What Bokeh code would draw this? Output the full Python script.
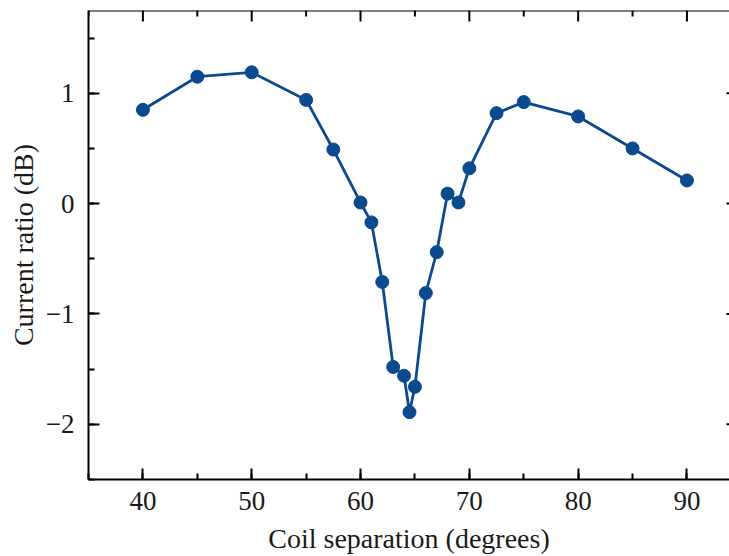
from bokeh.plotting import figure
from bokeh.models import LinearAxis, SingleIntervalTicker, Range1d, Span
from bokeh.embed import file_html
from bokeh.resources import INLINE

# Data
separation_deg = [40, 45, 50, 55, 57.5, 60, 61, 62, 63, 64, 64.5, 65, 66, 67, 68, 69, 70, 72.5, 75, 80, 85, 90]
current_ratio_db = [0.85, 1.15, 1.19, 0.94, 0.49, 0.01, -0.17, -0.71, -1.48, -1.56, -1.89, -1.66, -0.81, -0.44, 0.09, 0.01, 0.32, 0.82, 0.92, 0.79, 0.50, 0.21]

x_major_ticks = [40, 50, 60, 70, 80, 90]
x_minor_ticks = [35, 45, 55, 65, 75, 85]
y_major_ticks = [-2, -1, 0, 1]
y_tick_labels = {-2: "\u22122", -1: "\u22121", 0: "0", 1: "1"}
x_label = "Coil separation (degrees)"
y_label = "Current ratio (dB)"

COLOR = "#0B4A8F"
FONT = "Liberation Serif"
TEXT = "#1a1a1a"

W, H = 729, 556
LEFT, TOP = 88, 10
X0, X1 = 35, 93.91
Y0, Y1 = -2.5, 1.75

p = figure(width=W, height=H,
           x_range=Range1d(X0, X1), y_range=Range1d(Y0, Y1),
           output_backend="svg", toolbar_location=None,
           x_axis_location=None, y_axis_location=None,
           min_border_left=LEFT, min_border_top=TOP, min_border_right=0, min_border_bottom=0)
p.outline_line_color = None
p.xgrid.visible = False
p.ygrid.visible = False
p.background_fill_color = "white"
p.border_fill_color = "white"


def style(ax):
    ax.axis_line_width = 2
    ax.axis_line_color = "black"
    ax.major_tick_line_width = 2
    ax.minor_tick_line_width = 2
    ax.major_tick_in = 11
    ax.major_tick_out = 0
    ax.minor_tick_in = 6
    ax.minor_tick_out = 0
    ax.major_label_text_font = FONT
    ax.major_label_text_color = TEXT
    ax.major_label_text_font_size = "27px"
    ax.axis_label_text_font = FONT
    ax.axis_label_text_font_style = "normal"
    ax.axis_label_text_color = TEXT
    ax.axis_label_text_font_size = "28px"


xb = LinearAxis(ticker=SingleIntervalTicker(interval=10, num_minor_ticks=2))
style(xb)
xb.major_label_standoff = 12
xb.axis_label = x_label
xb.axis_label_standoff = 10
p.add_layout(xb, "below")

yl = LinearAxis(ticker=SingleIntervalTicker(interval=1, num_minor_ticks=2))
style(yl)
yl.major_label_standoff = 14
yl.major_label_overrides = y_tick_labels
yl.axis_label = y_label
yl.axis_label_standoff = 4
p.add_layout(yl, "left")

# top frame line with inward ticks, right-side tick stubs (no labels)
p.add_layout(Span(location=Y1, dimension="width", line_color="black", line_width=2))

frame_w = W - LEFT
frame_h = 468
dy = (Y1 - Y0) / frame_h  # data units per pixel
dx = (X1 - X0) / frame_w
p.segment(x0=x_major_ticks, y0=[Y1] * len(x_major_ticks),
          x1=x_major_ticks, y1=[Y1 - 11 * dy] * len(x_major_ticks),
          line_color="black", line_width=2)
p.segment(x0=x_minor_ticks, y0=[Y1] * len(x_minor_ticks),
          x1=x_minor_ticks, y1=[Y1 - 6 * dy] * len(x_minor_ticks),
          line_color="black", line_width=2)
p.segment(x0=[X1] * len(y_major_ticks), y0=y_major_ticks,
          x1=[X1 - 3 * dx] * len(y_major_ticks), y1=y_major_ticks,
          line_color="black", line_width=2)

p.line(separation_deg, current_ratio_db, line_color=COLOR, line_width=2.8)
p.scatter(separation_deg, current_ratio_db, size=13, fill_color=COLOR, line_color=COLOR)

open("out.html", "w").write(file_html(p, INLINE))
